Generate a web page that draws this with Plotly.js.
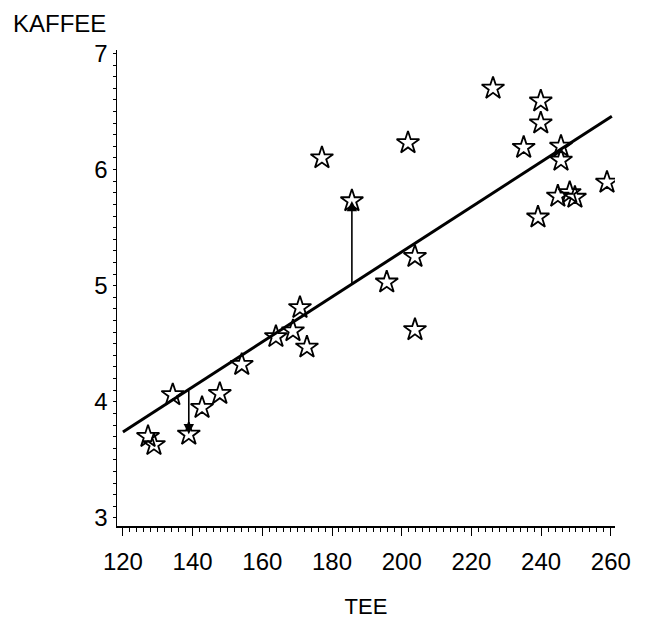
<!DOCTYPE html>
<html>
<head>
<meta charset="utf-8">
<script src="https://cdn.plot.ly/plotly-3.0.1.min.js"></script>
<style>html,body{margin:0;padding:0;background:#fff;}#chart{width:646px;height:622px;}</style>
</head>
<body>
<div id="chart"></div>
<script>
// Observed data (TEE vs KAFFEE)
const tee = [127.2, 128.9, 134.3, 138.9, 142.7, 147.8, 154.1, 163.9, 168.8, 170.8,
             172.8, 177.1, 185.7, 195.7, 201.8, 203.8, 203.8, 226.2, 239.9, 239.9,
             235.0, 245.7, 245.7, 258.9, 244.8, 248.2, 249.7, 239.1];
const kaffee = [3.70, 3.63, 4.06, 3.72, 3.95, 4.07, 4.32, 4.56, 4.61, 4.81,
                4.47, 6.10, 5.73, 5.03, 6.23, 5.25, 4.62, 6.70, 6.59, 6.40,
                6.19, 6.20, 6.08, 5.89, 5.77, 5.80, 5.76, 5.59];
// Fitted line endpoints
const fitX = [120, 260.3];
const fitY = [3.74, 6.46];
// Residual arrows: x position, from (line) and to (point)
const arrowX = [185.7, 138.9];
const arrowFrom = [5.01, 4.11];
const arrowTo = [5.73, 3.72];
const xTicks = [120, 140, 160, 180, 200, 220, 240, 260];
const yTicks = [3, 4, 5, 6, 7];

const FONT = 'Liberation Sans, Arial, sans-serif';

const traces = [
  {
    x: fitX, y: fitY, type: 'scatter', mode: 'lines',
    line: {color: '#000', width: 3}, hoverinfo: 'skip'
  },
  {
    x: tee, y: kaffee, type: 'scatter', mode: 'markers',
    marker: {symbol: 'star-open', size: 17, color: '#000', line: {color: '#000', width: 1.8}}
  }
];

const annotations = arrowX.map((x, i) => ({
  x: x, y: arrowTo[i], ax: x, ay: arrowFrom[i],
  xref: 'x', yref: 'y', axref: 'x', ayref: 'y',
  text: '', showarrow: true, arrowhead: 2, arrowsize: 1.3, arrowwidth: 1.6,
  arrowcolor: '#000', standoff: 0, startstandoff: 0
}));

const layout = {
  width: 646, height: 622,
  paper_bgcolor: '#fff', plot_bgcolor: '#fff',
  showlegend: false,
  margin: {l: 117, r: 31, t: 50, b: 96},
  font: {family: FONT, color: '#000', size: 24},
  title: {
    text: 'KAFFEE', x: 13/646, xanchor: 'left', xref: 'container',
    y: 1 - 24/622, yanchor: 'middle', yref: 'container',
    font: {family: FONT, size: 24, color: '#000'}
  },
  xaxis: {
    range: [118.3, 261.2], tickvals: xTicks, ticktext: xTicks.map(String),
    showgrid: false, zeroline: false, showline: true, linecolor: '#000', linewidth: 1.5,
    ticks: 'outside', ticklen: 8, tickwidth: 1, tickcolor: '#000',
    ticklabelstandoff: 6,
    minor: {dtick: 2, tick0: 120, ticks: 'outside', ticklen: 4, tickwidth: 1, tickcolor: '#000', showgrid: false},
    tickfont: {family: FONT, size: 24, color: '#000'},
    title: {text: 'TEE', standoff: 24, font: {family: FONT, size: 22, color: '#000'}}
  },
  yaxis: {
    range: [2.93, 7.03], tickvals: yTicks, ticktext: yTicks.map(String),
    showgrid: false, zeroline: false, showline: true, linecolor: '#000', linewidth: 1.5,
    ticks: 'outside', ticklen: 3, tickwidth: 1, tickcolor: '#000',
    ticklabelstandoff: 0,
    minor: {dtick: 0.1, tick0: 3, ticks: 'outside', ticklen: 3, tickwidth: 1, tickcolor: '#000', showgrid: false},
    tickfont: {family: FONT, size: 24, color: '#000'}
  },
  annotations: annotations
};

Plotly.newPlot('chart', traces, layout, {displayModeBar: false, staticPlot: true});
</script>
</body>
</html>
